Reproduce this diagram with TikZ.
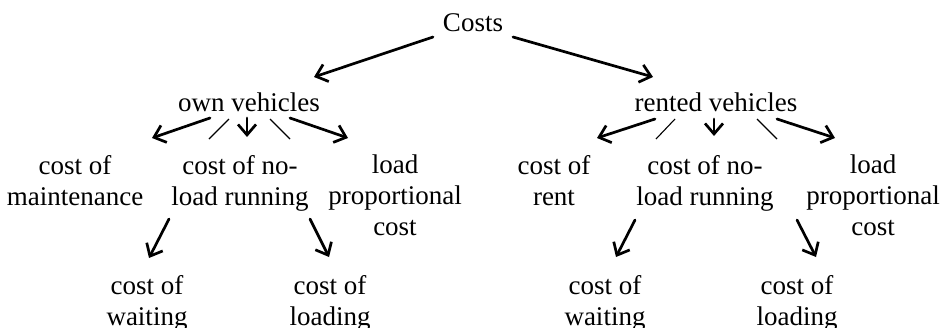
\documentclass[tikz,border=0pt]{standalone}
\usepackage{fontspec}
\setmainfont{Liberation Serif}
\usetikzlibrary{arrows.meta}
\begin{document}
\begin{tikzpicture}[x=1pt,y=-1pt,
  lbl/.style={font=\fontsize{27}{31}\selectfont, align=center, inner sep=0pt, outer sep=0pt},
  arr/.style={line width=2.7pt, line cap=round, -{Straight Barb[length=10.5pt,width=18pt]}},
  thinline/.style={line width=1.1pt}]
\useasboundingbox (0,0) rectangle (947,327);
% level 0
\node[lbl, anchor=base] (costs) at (473,31) {Costs};
% level 1
\node[lbl, anchor=base] (own) at (249,111) {own vehicles};
\node[lbl, anchor=base] (rented) at (716,111) {rented vehicles};
% level 2 (own)
\node[lbl, anchor=north] (maint) at (75,155) {cost of\\maintenance};
\node[lbl, anchor=north] (noload) at (240,155) {cost of no-\\load running};
\node[lbl, anchor=north] (loadprop) at (395,155) {load\\proportional\\cost};
% level 2 (rented)
\node[lbl, anchor=north] (rent) at (554,155) {cost of\\rent};
\node[lbl, anchor=north] (noloadr) at (705,155) {cost of no-\\load running};
\node[lbl, anchor=north] (loadpropr) at (873,155) {load\\proportional\\cost};
% level 3
\node[lbl, anchor=north] (wait) at (147,275) {cost of\\waiting};
\node[lbl, anchor=north] (loading) at (330,275) {cost of\\loading};
\node[lbl, anchor=north] (waitr) at (605,275) {cost of\\waiting};
\node[lbl, anchor=north] (loadingr) at (797,275) {cost of\\loading};
% connectors level 0 -> 1
\draw[arr] ([shift={(-40,6)}]costs.base) -- ([shift={(65,-34)}]own.base);
\draw[arr] ([shift={(40,6)}]costs.base) -- ([shift={(-63,-34)}]rented.base);
% own fan
\draw[arr] ([shift={(-39,7)}]own.base) -- ([shift={(77,-17)}]maint.north);
\draw[thinline] ([shift={(-20,8)}]own.base) -- ([shift={(-31,-16)}]noload.north);
\draw[arr] ([shift={(-2,7)}]own.base) -- ([shift={(7,-18)}]noload.north);
\draw[thinline] ([shift={(21,8)}]own.base) -- ([shift={(50,-16)}]noload.north);
\draw[arr] ([shift={(41,7)}]own.base) -- ([shift={(-47,-17)}]loadprop.north);
% rented fan
\draw[arr] ([shift={(-61,8)}]rented.base) -- ([shift={(43,-17)}]rent.north);
\draw[thinline] ([shift={(-41,8)}]rented.base) -- ([shift={(-49,-16)}]noloadr.north);
\draw[arr] ([shift={(-2,8)}]rented.base) -- ([shift={(9,-19)}]noloadr.north);
\draw[thinline] ([shift={(41,8)}]rented.base) -- ([shift={(72,-16)}]noloadr.north);
\draw[arr] ([shift={(61,8)}]rented.base) -- ([shift={(-38,-17)}]loadpropr.north);
% level 2 -> 3
\draw[arr] ([shift={(-71,64)}]noload.north) -- ([shift={(2,-17)}]wait.north);
\draw[arr] ([shift={(70,64)}]noload.north) -- ([shift={(-1,-18)}]loading.north);
\draw[arr] ([shift={(-70,65)}]noloadr.north) -- ([shift={(11,-18)}]waitr.north);
\draw[arr] ([shift={(92,65)}]noloadr.north) -- ([shift={(19,-18)}]loadingr.north);
\end{tikzpicture}
\end{document}
